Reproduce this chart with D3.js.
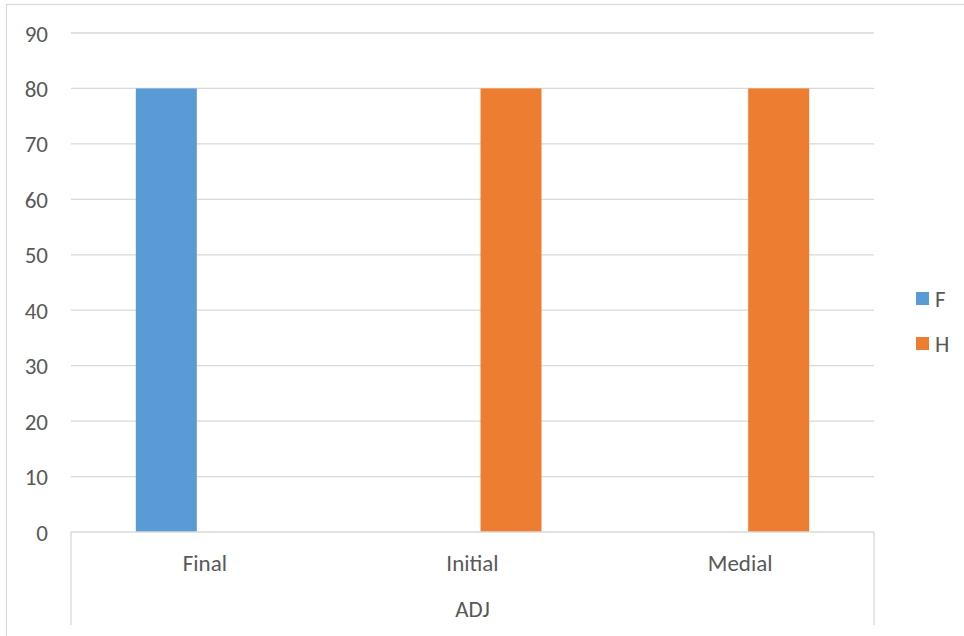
<!DOCTYPE html>
<html><head><meta charset="utf-8">
<script src="https://cdn.jsdelivr.net/npm/d3@7"></script>
<style>body{margin:0;background:#fff}svg{display:block}</style>
</head><body>
<svg id="c" width="964" height="636"></svg>
<script>
const categories = ["Final", "Initial", "Medial"];
const groupLabel = "ADJ";
const seriesNames = ["F", "H"];
const valuesF = [80, null, null];
const valuesH = [null, 80, 80];
const yTicks = [0, 10, 20, 30, 40, 50, 60, 70, 80, 90];
const colors = ["#5B9BD5", "#ED7D31"];

const font = "Carlito, Lato, 'Open Sans', sans-serif";
const fs = 23;
const svg = d3.select("#c");
const L = 71, R = 874, T = 33, B = 532;

// outer chart frame
svg.append("rect").attr("x", 6.5).attr("y", 4.5).attr("width", 1000).attr("height", 700)
  .attr("fill", "none").attr("stroke", "#d9d9d9").attr("stroke-width", 1.2);

const y = d3.scaleLinear().domain([0, 90]).range([B, T]);
const x = d3.scaleBand().domain(categories).range([L, R]);
const xs = d3.scaleBand().domain(seriesNames).range([-69, 69]).paddingInner(0.208);

// gridlines
svg.append("g").selectAll("line").data(yTicks.filter(d => d > 0)).join("line")
  .attr("x1", L).attr("x2", R).attr("y1", d => y(d)).attr("y2", d => y(d))
  .attr("stroke", "#d9d9d9").attr("stroke-width", 1.3);

// y axis labels
const yAxis = d3.axisLeft(y).tickValues(yTicks).tickSize(0).tickPadding(0);
const ya = svg.append("g").attr("transform", `translate(48,0)`).call(yAxis);
ya.select(".domain").remove();
ya.selectAll("text").attr("font-family", font).attr("font-size", fs).attr("fill", "#595959")
  .attr("text-anchor", "end").attr("dy", "0.35em");

// bars
const series = [valuesF, valuesH];
series.forEach((vals, si) => {
  svg.append("g").selectAll("rect").data(categories.map((c, i) => ({c, v: vals[i]})).filter(d => d.v != null))
    .join("rect")
    .attr("x", d => x(d.c) + x.bandwidth() / 2 + xs(seriesNames[si]))
    .attr("width", xs.bandwidth())
    .attr("y", d => y(d.v)).attr("height", d => y(0) - y(d.v))
    .attr("fill", colors[si]);
});

// category axis box
const boxB = 625;
svg.append("line").attr("x1", L).attr("x2", R).attr("y1", B).attr("y2", B).attr("stroke", "#d9d9d9").attr("stroke-width", 1.3);
[L, R].forEach(xx => svg.append("line").attr("x1", xx).attr("x2", xx).attr("y1", B).attr("y2", boxB)
  .attr("stroke", "#d9d9d9").attr("stroke-width", 1.3));

svg.append("g").selectAll("text").data(categories).join("text")
  .attr("x", d => x(d) + x.bandwidth() / 2).attr("y", 563).attr("dy", "0.35em")
  .attr("text-anchor", "middle").attr("font-family", font).attr("font-size", fs).attr("fill", "#595959")
  .text(d => d);
svg.append("text").attr("x", (L + R) / 2).attr("y", 609).attr("dy", "0.35em")
  .attr("text-anchor", "middle").attr("font-family", font).attr("font-size", fs).attr("fill", "#595959")
  .text(groupLabel);

// legend
const lg = svg.append("g").selectAll("g").data(seriesNames).join("g")
  .attr("transform", (d, i) => `translate(916,${292 + i * 45})`);
lg.append("rect").attr("width", 13).attr("height", 13).attr("fill", (d, i) => colors[i]);
lg.append("text").attr("x", 19).attr("y", 7).attr("dy", "0.35em")
  .attr("font-family", font).attr("font-size", fs).attr("fill", "#595959").text(d => d);
</script>
</body></html>
